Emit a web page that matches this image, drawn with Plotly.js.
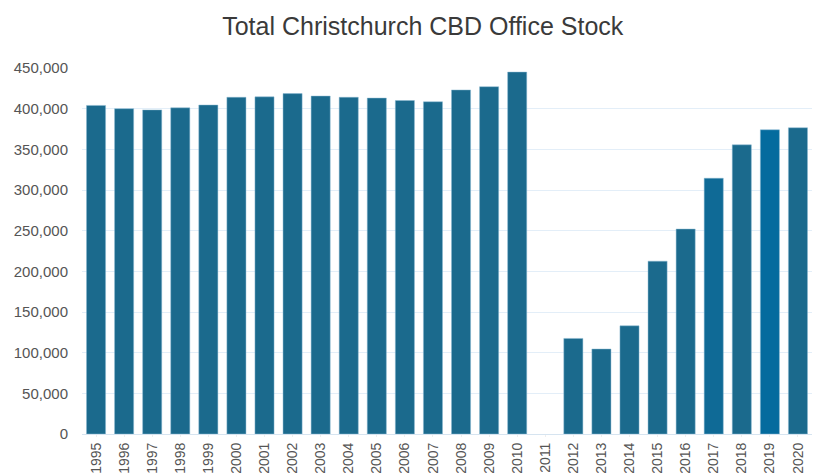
<!DOCTYPE html>
<html>
<head>
<meta charset="utf-8">
<script src="https://cdn.plot.ly/plotly-3.0.1.min.js"></script>
<style>html,body{margin:0;padding:0;background:#fff;}#chart{width:813px;height:476px;}</style>
</head>
<body>
<div id="chart"></div>
<script>
var years = ["1995","1996","1997","1998","1999","2000","2001","2002","2003","2004","2005","2006","2007","2008","2009","2010","2011","2012","2013","2014","2015","2016","2017","2018","2019","2020"];
var officeStock = [404000,400000,398500,401000,404500,414000,414500,418500,415500,414000,413000,410000,408500,423000,427000,445000,null,117500,104500,133000,212500,252000,314500,355500,374000,376500];
var barColors = ["#1b6a8d","#1b6a8d","#1b6a8d","#1b6a8d","#1b6a8d","#1b6a8d","#1b6a8d","#1b6a8d","#1b6a8d","#1b6a8d","#1b6a8d","#1b6a8d","#1b6a8d","#1b6a8d","#1b6a8d","#1b6a8d","#1b6a8d","#1b6a8d","#1b6a8d","#1b6a8d","#1b6a8d","#1b6a8d","#0f6a96","#1b6a8d","#046b9e","#1b6a8d"];

var trace = {
  type: 'bar',
  x: years,
  y: officeStock,
  marker: {color: barColors, line: {color: 'rgba(140,185,210,0.6)', width: 0.8}},
  hoverinfo: 'x+y'
};

var layout = {
  width: 813, height: 476,
  margin: {l: 82, r: 1, t: 68, b: 42},
  paper_bgcolor: '#ffffff',
  plot_bgcolor: '#ffffff',
  bargap: 0.32,
  showlegend: false,
  title: {
    text: 'Total Christchurch CBD Office Stock',
    font: {family: 'Liberation Sans, Arial, sans-serif', size: 25, color: '#3a3a3a'},
    x: 0.52, xanchor: 'center', y: 0.945, yanchor: 'middle'
  },
  xaxis: {
    type: 'category',
    tickangle: -90,
    tickfont: {family: 'Liberation Sans, Arial, sans-serif', size: 14, color: '#555555'},
    showgrid: false,
    showline: false,
    ticks: 'outside', ticklen: 2, tickcolor: '#eeeeee',
    fixedrange: true
  },
  yaxis: {
    range: [0, 450000],
    tickvals: [0,50000,100000,150000,200000,250000,300000,350000,400000,450000],
    tickformat: ',d',
    tickfont: {family: 'Liberation Sans, Arial, sans-serif', size: 15, color: '#555555'},
    gridcolor: '#e3eef8',
    gridwidth: 1,
    zeroline: true, zerolinecolor: '#d6e4f0', zerolinewidth: 1,
    ticks: 'outside', ticklen: 10, tickcolor: 'rgba(0,0,0,0)',
    showline: false,
    fixedrange: true
  }
};

Plotly.newPlot('chart', [trace], layout, {displayModeBar: false, staticPlot: true});
</script>
</body>
</html>
